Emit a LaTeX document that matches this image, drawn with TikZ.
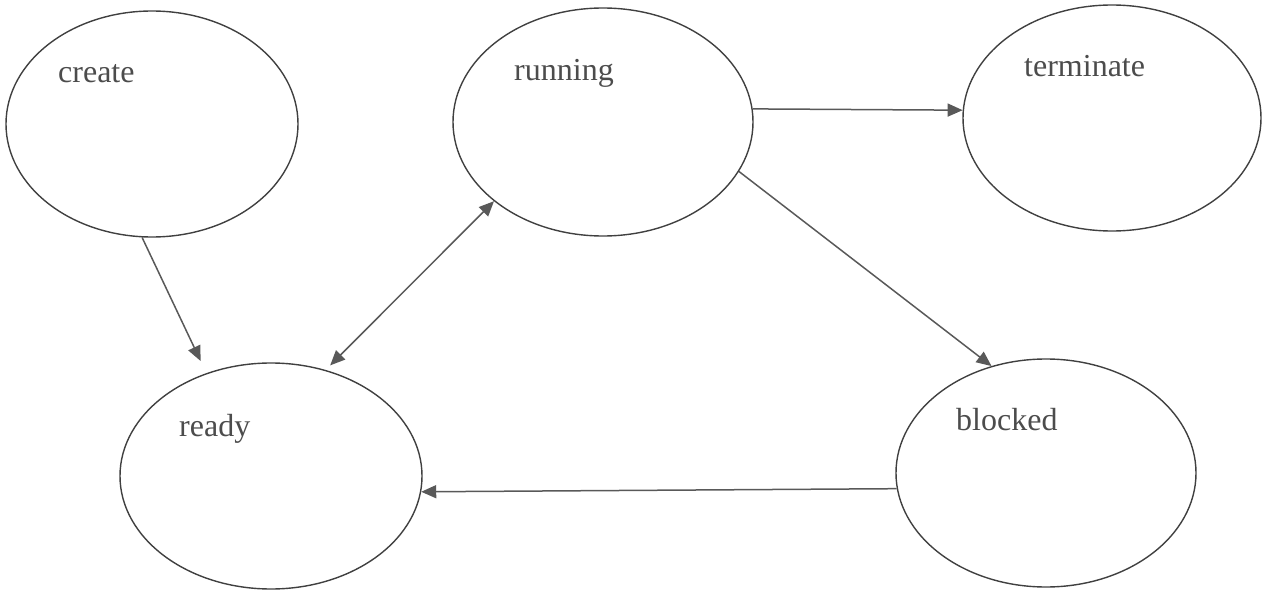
\documentclass[tikz,border=0pt]{standalone}
\usepackage{fontspec}
\setmainfont{Liberation Serif}
\usepackage{tikz}
\usetikzlibrary{calc}
\usetikzlibrary{shapes.geometric,arrows.meta}

\begin{document}
\begin{tikzpicture}[x=1pt,y=-1pt,
  state/.style={ellipse,draw=black!75,line width=1.4pt,inner sep=0pt},
  lbl/.style={anchor=base west,inner sep=0pt,text=black!70,font=\fontsize{32}{38}\selectfont},
  arr/.style={draw=black!65,line width=1.5pt,-{Triangle[length=15pt,width=13pt]}}]
\useasboundingbox (0,0) rectangle (1262,594);
\node[state,minimum width=292pt,minimum height=226pt] (create) at (152,124) {};
\node[state,minimum width=300pt,minimum height=228pt] (running) at (603,122) {};
\node[state,minimum width=298pt,minimum height=226pt] (terminate) at (1112,118) {};
\node[state,minimum width=302pt,minimum height=226pt] (ready) at (271,476) {};
\node[state,minimum width=300pt,minimum height=228pt] (blocked) at (1046,473) {};
\node[lbl] (createlbl) at (58,82) {create};
\node[lbl] (runninglbl) at (514,81) {running};
\node[lbl] (terminatelbl) at (1024,77) {terminate};
\node[lbl] (readylbl) at (179,436) {ready};
\node[lbl] (blockedlbl) at (956,430) {blocked};
\draw[arr] (create.265) -- ($(ready.122)+(-6,-12)$);
\draw[arr,{Triangle[length=15pt,width=13pt]}-{Triangle[length=15pt,width=13pt]}] ($(ready.62)+(3,-5)$) -- (running.216);
\draw[arr] (running.5) -- (terminate.177);
\draw[arr] (running.340) -- (blocked.117);
\draw[arr] (blocked.186) -- (ready.354);
\end{tikzpicture}
\end{document}
